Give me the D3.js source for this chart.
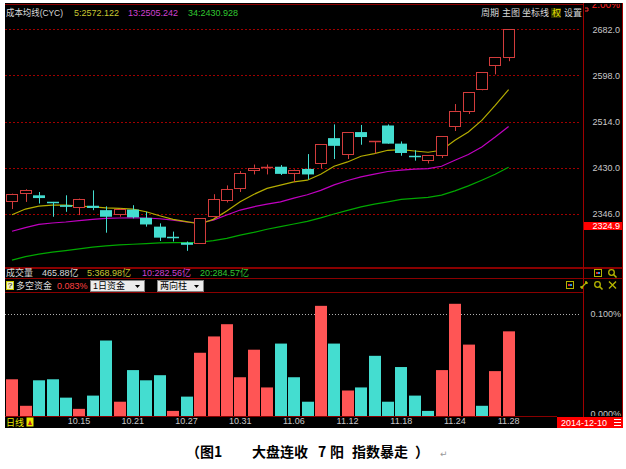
<!DOCTYPE html>
<html><head><meta charset="utf-8">
<script src="https://cdn.jsdelivr.net/npm/d3@7"></script>
<style>body{margin:0;background:#fff;} svg{display:block;}</style>
</head><body>
<svg id="c" width="626" height="469"></svg>
<script>
// ---------------- DATA ----------------
const dates = ["10.08","10.09","10.10","10.13","10.14","10.15","10.16","10.17","10.20","10.21",
  "10.22","10.23","10.24","10.27","10.28","10.29","10.30","10.31","11.03","11.04",
  "11.05","11.06","11.07","11.10","11.11","11.12","11.13","11.14","11.17","11.18",
  "11.19","11.20","11.21","11.24","11.25","11.26","11.27","11.28"];
const openV  = [2369,2384,2380,2367,2362,2359,2361,2353,2346,2354,2339,2323,2303.5,2294,2294,2343,2372,2394,2426,2429,
  2432,2421,2428,2438,2484,2456,2495,2477,2507,2474,2452,2444,2454,2506,2533,2574,2617,2631];
const highV  = [2383,2391,2386,2368,2380,2374,2389,2360,2357,2362,2350,2329,2314,2296,2338,2382,2398,2424,2436,2436,
  2435,2427,2455,2474,2509,2495,2508,2479,2509,2478,2462,2453,2487,2546,2568,2605,2631,2683];
const lowV   = [2355,2368,2365,2341,2350,2344,2353,2312,2341,2338,2323,2297,2296,2279,2294,2340,2367,2386,2418,2418,
  2417,2404,2409,2429,2446,2446,2472,2456,2474,2452,2443,2438,2448,2497,2528,2571,2600,2624];
const closeV = [2382,2389,2375,2366,2359,2373,2357,2341,2356,2340,2327,2303,2302,2290,2338,2373,2391,2420,2430,2431,
  2419,2426,2418,2474,2470,2495,2486,2479,2474,2457,2451,2453,2487,2534,2568,2605,2631,2683];
const cyc5  = [2344.6,2355,2360.4,2362.2,2362.2,2360.4,2359.1,2357.3,2356.2,2355,2350.1,2342.8,2336.3,2332,2327.8,2336.3,2351.3,2368.2,2381.6,2392.5,
  2398.5,2404.4,2407.5,2418.4,2432.9,2440.7,2451,2455.9,2461.9,2463.2,2460.6,2458.3,2461.9,2480,2495.1,2516.3,2543.5,2572.122];
const cyc13 = [2314.6,2321.1,2327.2,2329.6,2331.4,2333.8,2336.3,2338.1,2338.7,2339.2,2338.7,2337.4,2335,2331.4,2330.1,2335,2344.1,2353.2,2359.1,2364,
  2368.2,2375,2381,2389,2399,2407,2413.5,2418.4,2423.3,2425.7,2427.5,2428.7,2432.9,2443.8,2454.1,2467.9,2486,2505.242];
const cyc34 = [2262,2268.5,2272.9,2276.5,2279.4,2282.5,2285.6,2287.9,2289.7,2291,2292.1,2293.4,2293.9,2293.9,2294.6,2297.5,2301.8,2307.7,2312.6,2318.2,
  2322.9,2327.8,2332.5,2339,2346,2352.5,2359.1,2364,2368.2,2372.5,2374.4,2376.2,2380.3,2388.1,2397.2,2407.5,2418.4,2430.928];
// 多空资金 (%), sign = direction (positive red, negative cyan)
const fundV = [0.036,0.010,-0.035,-0.036,-0.018,0.007,-0.020,-0.074,0.014,-0.045,
  -0.035,-0.040,0.005,-0.019,0.062,0.078,0.090,0.038,0.065,0.028,
  -0.071,-0.038,-0.014,0.108,-0.071,0.025,-0.028,-0.059,-0.014,-0.048,
  -0.020,-0.005,0.045,0.110,0.070,-0.010,0.044,0.083];
const dateTicks  = ["10.15","10.21","10.27","10.31","11.06","11.12","11.18","11.24","11.28"];
const priceTicks = [2346,2430,2514,2598,2682];
const fundTicks  = [0, 0.1];
const markPrice  = 2324.9;
const volNow = 465.88, vol5 = 368.98, vol10 = 282.56, vol20 = 284.57;
const fundNow = 0.083;
const curDate = "2014-12-10";
const captionParts = ["（图1", "大盘连收", "7", "阳", "指数暴走", "）"];

// ---------------- DRAW ----------------
const svg = d3.select("#c");
const L = 5, R = 583, RE = 623, T = 3, B = 428;
const RED = "#d23c3c", CYAN = "#44ddd0", BRED = "#ff5555", DRED = "#8a0000";
const GRAY = "#c8c8c8";
const FONT = "'Liberation Sans','Noto Sans CJK SC',sans-serif";

svg.append("rect").attr("x", L).attr("y", T).attr("width", RE - L).attr("height", B - T).attr("fill", "#000");

const x = d3.scaleBand().domain(dates).range([5.3, 515.3]).paddingInner(0.143).paddingOuter(0.07);
const bw = x.bandwidth();
const y = d3.scaleLinear().domain([2346, 2682]).range([214, 29.3]);
const yF = d3.scaleLinear().domain([0, 0.1]).range([416, 314]);

const defs = svg.append("defs");
defs.append("clipPath").attr("id", "mainClip").append("rect").attr("x", L).attr("y", 5).attr("width", R - L).attr("height", 262);
defs.append("clipPath").attr("id", "topClip").append("rect").attr("x", 584).attr("y", 4).attr("width", 40).attr("height", 20);
defs.append("clipPath").attr("id", "botClip").append("rect").attr("x", 584).attr("y", 293).attr("width", 40).attr("height", 123);

// grid lines main
const main = svg.append("g").attr("clip-path", "url(#mainClip)");
main.selectAll("line.grid").data(priceTicks).join("line")
  .attr("x1", L).attr("x2", 580)
  .attr("y1", d => Math.round(y(d)) + 0.5).attr("y2", d => Math.round(y(d)) + 0.5)
  .attr("stroke", "#a00000").attr("stroke-dasharray", "2,2");

// MA lines
const idx = d3.range(dates.length);
const cx = i => x(dates[i]) + bw / 2;
const lineGen = arr => d3.line().x(i => cx(i)).y(i => y(arr[i]))(idx);
[[cyc34, "#00a800"], [cyc13, "#c000c0"], [cyc5, "#b4ac00"]].forEach(([arr, col]) => {
  main.append("path").attr("d", lineGen(arr)).attr("fill", "none").attr("stroke", col).attr("stroke-width", 1.2);
});

// candles
idx.forEach(i => {
  const o = openV[i], c = closeV[i], h = highV[i], l = lowV[i];
  const bx = Math.round(x(dates[i]));
  const wx = bx + 6.5;
  const up = c >= o;
  const col = up ? RED : CYAN;
  const yt = y(Math.max(o, c)), yb = y(Math.min(o, c));
  if (up) {
    main.append("line").attr("x1", wx).attr("x2", wx).attr("y1", y(h)).attr("y2", yt).attr("stroke", col);
    main.append("line").attr("x1", wx).attr("x2", wx).attr("y1", yb).attr("y2", y(l)).attr("stroke", col);
    if (yb - yt < 1.5) {
      main.append("line").attr("x1", bx).attr("x2", bx + 12).attr("y1", Math.round(yt) + 0.5).attr("y2", Math.round(yt) + 0.5).attr("stroke", col).attr("stroke-width", 1.5);
    } else {
      main.append("rect").attr("x", bx + 0.5).attr("y", Math.round(yt) + 0.5).attr("width", 11)
        .attr("height", Math.max(1, Math.round(yb) - Math.round(yt))).attr("fill", "#000").attr("stroke", col);
    }
  } else {
    main.append("line").attr("x1", wx).attr("x2", wx).attr("y1", y(h)).attr("y2", y(l)).attr("stroke", col);
    if (yb - yt < 1.5) {
      main.append("line").attr("x1", bx).attr("x2", bx + 12).attr("y1", Math.round(yt) + 0.5).attr("y2", Math.round(yt) + 0.5).attr("stroke", col).attr("stroke-width", 1.5);
    } else {
      main.append("rect").attr("x", bx).attr("y", yt).attr("width", 12).attr("height", yb - yt).attr("fill", col);
    }
  }
});

// right price axis
const gy = svg.append("g").attr("transform", "translate(583,0)")
  .call(d3.axisRight(y).tickValues(priceTicks).tickFormat(d3.format(".1f")).tickSize(0));
gy.select(".domain").remove();
gy.attr("font-size", 9).attr("font-family", FONT);
gy.selectAll("text").attr("x", 37).attr("text-anchor", "end").attr("fill", GRAY);

// mark price box
const my = y(markPrice);
svg.append("rect").attr("x", 584).attr("y", Math.round(my) - 4).attr("width", 38).attr("height", 8).attr("fill", "#ff0000");
svg.append("text").attr("x", 620).attr("y", my).attr("dy", "0.35em").attr("text-anchor", "end")
  .attr("font-size", 9).attr("font-family", FONT).attr("fill", "#fff").text(markPrice.toFixed(1));

// top 2.00% (clipped)
svg.append("g").attr("clip-path", "url(#topClip)").append("text").attr("x", 620).attr("y", 8).attr("text-anchor", "end")
  .attr("font-size", 10).attr("font-family", FONT).attr("fill", "#ff2020").text("2.00%");
svg.append("path").attr("d", "M585,8 h3 v3 M585,11 h3").attr("stroke", "#ff3030").attr("fill", "none");

// border lines
const hl = (x1, x2, yy, col) => svg.append("line").attr("x1", x1).attr("x2", x2).attr("y1", yy).attr("y2", yy).attr("stroke", col || DRED);
hl(L, R, 4.5);
hl(L, RE, 267.5); hl(L, RE, 268.5);
hl(L, RE, 278.5);
hl(L, R, 292.5);
hl(L, 557, 416.5);
svg.append("line").attr("x1", 583.5).attr("x2", 583.5).attr("y1", T).attr("y2", B).attr("stroke", "#a00000");
svg.append("line").attr("x1", 622.5).attr("x2", 622.5).attr("y1", T).attr("y2", B).attr("stroke", "#a00000");

// legend top-left
const txt = (s, xx, yy, col, fs, anchor) => svg.append("text").attr("x", xx).attr("y", yy).attr("dy", "0.35em")
  .attr("font-size", fs || 9).attr("font-family", FONT).attr("fill", col || GRAY).attr("text-anchor", anchor || "start").text(s);
const f3 = d3.format(".3f"), f2 = d3.format(".2f");
const last = dates.length - 1;
txt("成本均线(CYC)", 6, 13, "#d8d8d8", 9.5).attr("textLength", 57).attr("lengthAdjust", "spacingAndGlyphs");
txt("5:" + f3(cyc5[last]), 74, 13, "#c8c832");
txt("13:" + f3(cyc13[last]), 128, 13, "#d040d0");
txt("34:" + f3(cyc34[last]), 188, 13, "#30c830");

// header right
txt("周期", 481, 13, "#d8d8d8", 9);
txt("主图", 502, 13, "#d8d8d8", 9);
txt("坐标线", 522, 13, "#d8d8d8", 9);
svg.append("rect").attr("x", 551).attr("y", 8).attr("width", 10).attr("height", 10).attr("fill", "#303000");
txt("权", 552, 13, "#e8e800", 9);
txt("设置", 564, 13, "#d8d8d8", 9);

// volume strip
txt("成交量", 6, 273, "#d8d8d8", 9);
txt(f2(volNow) + "亿", 42, 273, "#d8d8d8");
txt("5:" + f2(vol5) + "亿", 87, 273, "#c8c832");
txt("10:" + f2(vol10) + "亿", 142, 273, "#d040d0");
txt("20:" + f2(vol20) + "亿", 200, 273, "#30c830");

// fund strip
svg.append("rect").attr("x", 6.5).attr("y", 281.5).attr("width", 7).attr("height", 8).attr("fill", "#f0f0c0").attr("stroke", "#c8c800");
txt("?", 10, 285.5, "#000", 8, "middle");
txt("多空资金", 16, 285.5, "#d8d8d8", 9);
txt(f3(fundNow) + "%", 57, 285.5, "#ff4040");
[[90, 144, "1日资金"], [157, 203, "两向柱"]].forEach(([a, b, s]) => {
  svg.append("rect").attr("x", a + 0.5).attr("y", 280.5).attr("width", b - a).attr("height", 11).attr("fill", "#ececec").attr("stroke", "#808080");
  txt(s, a + 3, 286, "#000", 9);
  svg.append("path").attr("d", `M${b - 9},285 h5 l-2.5,3 z`).attr("fill", "#000");
});

// icons
const ICON = "#b4b400";
function calIcon(xx, yy) {
  svg.append("rect").attr("x", xx + 0.5).attr("y", yy + 0.5).attr("width", 7).attr("height", 7).attr("fill", "none").attr("stroke", ICON);
  svg.append("rect").attr("x", xx + 2).attr("y", yy + 3).attr("width", 2).attr("height", 2).attr("fill", "#e03030");
  svg.append("rect").attr("x", xx + 4).attr("y", yy + 3).attr("width", 2).attr("height", 2).attr("fill", "#3090e0");
}
function magIcon(xx, yy) {
  svg.append("circle").attr("cx", xx + 3.5).attr("cy", yy + 3.5).attr("r", 2.8).attr("fill", "none").attr("stroke", ICON).attr("stroke-width", 1.3);
  svg.append("line").attr("x1", xx + 5.5).attr("y1", yy + 5.5).attr("x2", xx + 8.5).attr("y2", yy + 8.5).attr("stroke", ICON).attr("stroke-width", 1.6);
}
calIcon(594, 269); magIcon(608, 269);
calIcon(566, 281);
svg.append("path").attr("d", "M581,288 l6,-6 M581,288 h2 M581,288 v-2 M587,282 h-2 M587,282 v2").attr("stroke", ICON).attr("stroke-width", 1.3).attr("fill", "none");
magIcon(594, 281);
svg.append("path").attr("d", "M609,281.5 l7,7 M616,281.5 l-7,7").attr("stroke", ICON).attr("stroke-width", 1.4);

// fund bars
svg.append("line").attr("x1", L).attr("x2", R - 3).attr("y1", Math.round(yF(0.1)) + 0.5).attr("y2", Math.round(yF(0.1)) + 0.5)
  .attr("stroke", "#b0b0b0").attr("stroke-dasharray", "1,2");
svg.append("g").selectAll("rect").data(idx).join("rect")
  .attr("x", i => Math.round(x(dates[i]))).attr("width", 12)
  .attr("y", i => yF(Math.abs(fundV[i]))).attr("height", i => yF(0) - yF(Math.abs(fundV[i])))
  .attr("fill", i => fundV[i] >= 0 ? BRED : CYAN);

// fund axis
const gf = svg.append("g").attr("clip-path", "url(#botClip)").append("g").attr("transform", "translate(583,0)")
  .call(d3.axisRight(yF).tickValues(fundTicks).tickFormat(d => d3.format(".3f")(d) + "%").tickSize(0));
gf.select(".domain").remove();
gf.attr("font-size", 9).attr("font-family", FONT);
gf.selectAll("text").attr("x", 38).attr("text-anchor", "end").attr("fill", GRAY);
gf.selectAll(".tick").filter(d => d === 0).select("text").attr("dy", "0.1em");

// x axis
const gx = svg.append("g").attr("transform", "translate(0,416)")
  .call(d3.axisBottom(x).tickValues(dateTicks).tickSize(0));
gx.select(".domain").remove();
gx.attr("font-size", 9).attr("font-family", FONT);
gx.selectAll("text").attr("fill", GRAY).attr("y", 2);

// bottom-left label
txt("日线", 6, 422.5, "#e8e800", 9);
svg.append("rect").attr("x", 26.5).attr("y", 417.5).attr("width", 7).attr("height", 9).attr("fill", "#e8e800");
svg.append("path").attr("d", "M28,425 l2,-5 l2,5 z").attr("fill", "#c02020");

// date box
svg.append("rect").attr("x", 557).attr("y", 417).attr("width", 66).attr("height", 11).attr("fill", "#ff0000");
txt(curDate, 584, 422.5, "#fff", 9, "middle");
svg.append("path").attr("d", "M614,419.5 h7 M614,422.5 h7 M614,425.5 h7").attr("stroke", "#fff");

// caption
const cap = svg.append("text").attr("y", 452).attr("dy", "0.35em").attr("font-size", 14).attr("font-weight", "bold")
  .attr("font-family", "'Noto Sans CJK SC',sans-serif").attr("fill", "#000");
const capX = [186, 252, 318, 330, 352, 415];
captionParts.forEach((s, k) => cap.append("tspan").attr("x", capX[k]).text(s));
svg.append("text").attr("x", 440).attr("y", 454).attr("dy", "0.35em").attr("font-size", 9)
  .attr("font-family", "'DejaVu Sans',sans-serif").attr("fill", "#999").text("↵");
</script>
</body></html>
